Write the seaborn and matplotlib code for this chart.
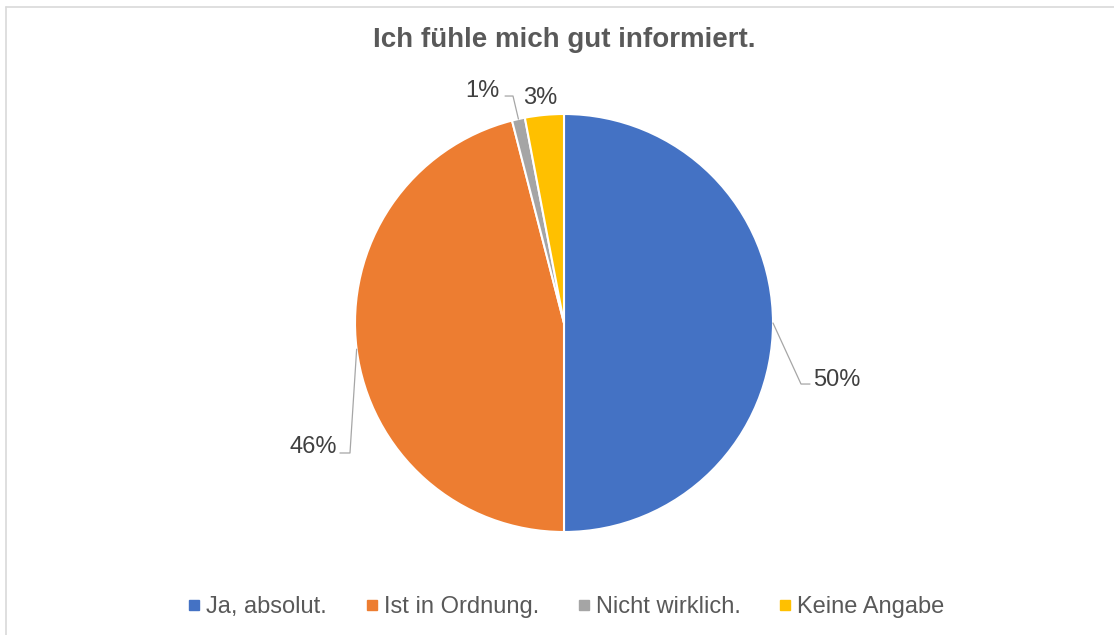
import numpy as np
import matplotlib.pyplot as plt
from matplotlib.lines import Line2D
import seaborn as sns

sns.set_theme(style="white")
plt.rcParams["font.family"] = ["Liberation Sans", "DejaVu Sans"]

# data
categories = ["Ja, absolut.", "Ist in Ordnung.", "Nicht wirklich.", "Keine Angabe"]
shares = [50, 46, 1, 3]
colors = ["#4472C4", "#ED7D31", "#A5A5A5", "#FFC000"]

W, H = 1114, 635
fig = plt.figure(figsize=(W / 100, H / 100), dpi=100)

# pie box: center (564, 323) px, radius 209 px
cx, cy, r = 564, 323, 209
ax = fig.add_axes([(cx - r) / W, (H - cy - r) / H, 2 * r / W, 2 * r / H])
wedges, _ = ax.pie(shares, colors=colors, startangle=90, counterclock=False,
                   radius=1, wedgeprops=dict(edgecolor="white", linewidth=1.5))
ax.set_xlim(-1, 1)
ax.set_ylim(-1, 1)
ax.axis("off")

# label layout: (elbow, hook end, text pos, ha) in radius units, None = no leader
layout = [
    ((1.134, -0.292), (1.177, -0.292), (1.191, -0.275), "left"),
    ((-1.024, -0.622), (-1.072, -0.622), (-1.086, -0.595), "right"),
    ((-0.244, 1.086), (-0.282, 1.086), (-0.311, 1.108), "right"),
    (None, None, (-0.115, 1.077), "center"),
]
for w, val, (elbow, hook, tpos, ha) in zip(wedges, shares, layout):
    mid = np.deg2rad((w.theta1 + w.theta2) / 2)
    anchor = (np.cos(mid), np.sin(mid))
    if elbow is not None:
        ax.plot([anchor[0], elbow[0], hook[0]], [anchor[1], elbow[1], hook[1]],
                color="#A6A6A6", lw=0.9, clip_on=False)
    ax.text(tpos[0], tpos[1], f"{val}%", ha=ha, va="center",
            fontsize=17, color="#404040")

fig.text(cx / W, 1 - 40 / H, "Ich fühle mich gut informiert.", ha="center",
         va="center", fontsize=20, fontweight="bold", color="#595959")

handles = [Line2D([], [], marker="s", ls="", color=c, markersize=6.5) for c in colors]
fig.legend(handles, categories, loc="center", bbox_to_anchor=(567 / W, 1 - 607 / H),
           ncol=4, frameon=False, fontsize=17, handlelength=0.4,
           handletextpad=0.3, columnspacing=1.7, labelcolor="#595959")

# chart border (cropped at right and bottom)
fig.add_artist(Line2D([5.5 / W, 5.5 / W], [0, 1 - 7 / H], color="#D9D9D9", lw=1.2))
fig.add_artist(Line2D([5.5 / W, 1], [1 - 7 / H, 1 - 7 / H], color="#D9D9D9", lw=1.2))

fig.savefig("out.png", dpi=100, facecolor="white")
